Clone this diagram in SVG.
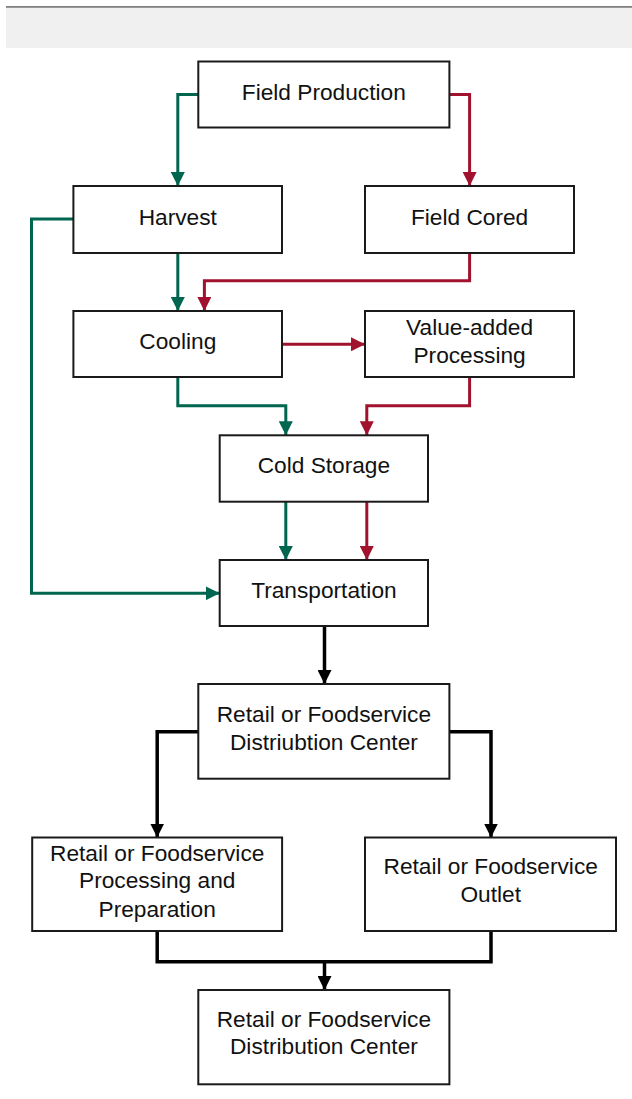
<svg xmlns="http://www.w3.org/2000/svg" width="632" height="1099" viewBox="0 0 632 1099">
  <style>
    .box { fill: #ffffff; stroke: #1a1a1a; stroke-width: 2; }
    .label { font-family: "Liberation Sans", Arial, sans-serif; font-size: 22.7px; fill: #111111; text-anchor: middle; }
    .wire { fill: none; stroke-linejoin: miter; }
    .green { stroke: #00664f; stroke-width: 3; }
    .red { stroke: #a0122e; stroke-width: 3; }
    .black { stroke: #000000; stroke-width: 3.5; }
  </style>
  <defs>
    <marker id="arrow-green" markerUnits="userSpaceOnUse" markerWidth="14" markerHeight="14" viewBox="0 0 14 14" refX="14" refY="7" orient="auto">
      <path d="M0,0 L14,7 L0,14 Z" fill="#00664f"/>
    </marker>
    <marker id="arrow-red" markerUnits="userSpaceOnUse" markerWidth="14" markerHeight="14" viewBox="0 0 14 14" refX="14" refY="7" orient="auto">
      <path d="M0,0 L14,7 L0,14 Z" fill="#a0122e"/>
    </marker>
    <marker id="arrow-black" markerUnits="userSpaceOnUse" markerWidth="14" markerHeight="14" viewBox="0 0 14 14" refX="14" refY="7" orient="auto">
      <path d="M0,0 L14,7 L0,14 Z" fill="#000000"/>
    </marker>
  </defs>

  <!-- header band -->
  <rect x="6" y="7.5" width="626" height="40.5" fill="#f0f0f0"/>
  <rect x="6" y="6" width="626" height="1.8" fill="#808080"/>

  <!-- connectors -->
  <g id="connectors">
    <path class="wire green" d="M199,94.5 H177.8 V186" marker-end="url(#arrow-green)"/>
    <path class="wire red" d="M449,94.5 H469.6 V186" marker-end="url(#arrow-red)"/>
    <path class="wire green" d="M73.5,219 H31.5 V593.3 H219.7" marker-end="url(#arrow-green)"/>
    <path class="wire green" d="M177.8,253 V311" marker-end="url(#arrow-green)"/>
    <path class="wire red" d="M469.6,253 V280.7 H204.4 V311" marker-end="url(#arrow-red)"/>
    <path class="wire red" d="M282,344.3 H365" marker-end="url(#arrow-red)"/>
    <path class="wire green" d="M177.8,377 V405.7 H285.8 V435.3" marker-end="url(#arrow-green)"/>
    <path class="wire red" d="M469.6,377 V405.7 H366.8 V435.3" marker-end="url(#arrow-red)"/>
    <path class="wire green" d="M285.8,501.7 V560" marker-end="url(#arrow-green)"/>
    <path class="wire red" d="M366.8,501.7 V560" marker-end="url(#arrow-red)"/>
    <path class="wire black" d="M324.5,626 V684" marker-end="url(#arrow-black)"/>
    <path class="wire black" d="M198.3,731.7 H157.2 V837.5" marker-end="url(#arrow-black)"/>
    <path class="wire black" d="M449.4,731.7 H491 V837.5" marker-end="url(#arrow-black)"/>
    <path class="wire black" d="M157.2,931 V961.7 H491 V931"/>
    <path class="wire black" d="M324.5,961.7 V990" marker-end="url(#arrow-black)"/>
  </g>

  <g id="field-production">
    <rect class="box" x="198.3" y="61.5" width="251.1" height="66"/>
    <text class="label" x="323.8" y="100">Field Production</text>
  </g>
  <g id="harvest">
    <rect class="box" x="73.4" y="186" width="208.6" height="67"/>
    <text class="label" x="177.8" y="225">Harvest</text>
  </g>
  <g id="field-cored">
    <rect class="box" x="365" y="186" width="209" height="67"/>
    <text class="label" x="469.6" y="225">Field Cored</text>
  </g>
  <g id="cooling">
    <rect class="box" x="73.4" y="311" width="208.6" height="66"/>
    <text class="label" x="177.8" y="349">Cooling</text>
  </g>
  <g id="value-added-processing">
    <rect class="box" x="365" y="311" width="209" height="66"/>
    <text class="label" x="469.6" y="335">Value-added</text>
    <text class="label" x="469.6" y="363">Processing</text>
  </g>
  <g id="cold-storage">
    <rect class="box" x="219.7" y="435.3" width="208.3" height="66.4"/>
    <text class="label" x="323.9" y="473.3">Cold Storage</text>
  </g>
  <g id="transportation">
    <rect class="box" x="219.7" y="560" width="208.3" height="66"/>
    <text class="label" x="323.9" y="598">Transportation</text>
  </g>
  <g id="distribution-hub">
    <rect class="box" x="198.3" y="684" width="251.1" height="94.7"/>
    <text class="label" x="323.9" y="721.7">Retail or Foodservice</text>
    <text class="label" x="323.9" y="750">Distriubtion Center</text>
  </g>
  <g id="processing-preparation">
    <rect class="box" x="32.2" y="837.5" width="249.9" height="93.5"/>
    <text class="label" x="157.2" y="860.7">Retail or Foodservice</text>
    <text class="label" x="157.2" y="888.3">Processing and</text>
    <text class="label" x="157.2" y="916.7">Preparation</text>
  </g>
  <g id="outlet">
    <rect class="box" x="365" y="837.5" width="251" height="93.5"/>
    <text class="label" x="490.7" y="874.3">Retail or Foodservice</text>
    <text class="label" x="490.7" y="901.7">Outlet</text>
  </g>
  <g id="distribution-center">
    <rect class="box" x="198.3" y="990" width="251.1" height="94.3"/>
    <text class="label" x="323.9" y="1026.7">Retail or Foodservice</text>
    <text class="label" x="323.9" y="1054.3">Distribution Center</text>
  </g>
</svg>
